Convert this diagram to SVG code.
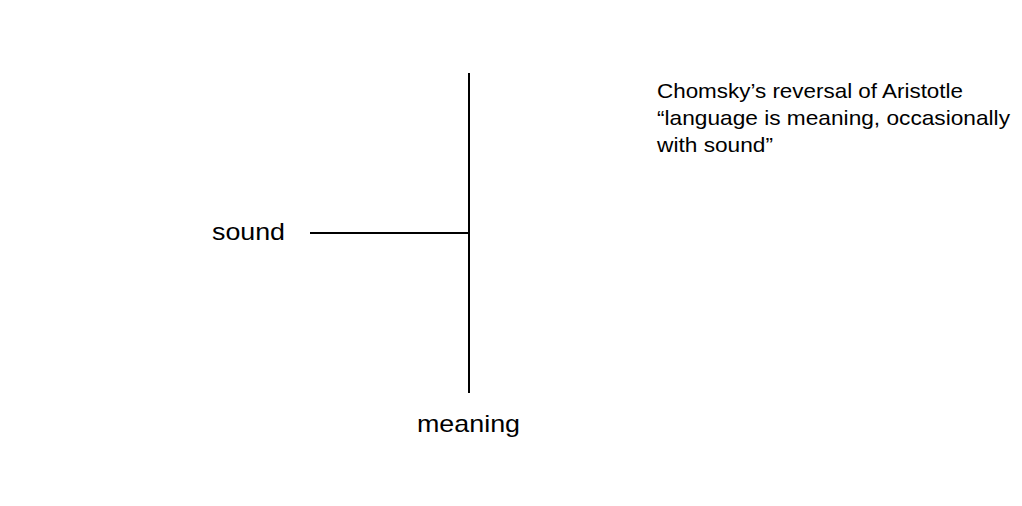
<svg xmlns="http://www.w3.org/2000/svg" width="1022" height="506" viewBox="0 0 1022 506">
<style>
text{font-family:"Liberation Sans",Arial,sans-serif;fill:#000}
.lbl{font-size:24px}
.t{font-size:21px}
.ln{stroke:#000;stroke-width:2;fill:none}
</style>
<rect width="1022" height="506" fill="#fff"/>
<g id="connectors">
<line class="ln" x1="469" y1="73" x2="469" y2="393"/>
<line class="ln" x1="310" y1="233" x2="469" y2="233"/>
</g>
<g id="node-sound"><text class="lbl" x="212" y="240" textLength="73" lengthAdjust="spacingAndGlyphs">sound</text></g>
<g id="node-meaning"><text class="lbl" x="417" y="432" textLength="103" lengthAdjust="spacingAndGlyphs">meaning</text></g>
<g id="note">
<text class="t" x="657" y="98" textLength="306" lengthAdjust="spacingAndGlyphs">Chomsky’s reversal of Aristotle</text>
<text class="t" x="657" y="125" textLength="353" lengthAdjust="spacingAndGlyphs">“language is meaning, occasionally</text>
<text class="t" x="657" y="152" textLength="116" lengthAdjust="spacingAndGlyphs">with sound”</text>
</g>
</svg>
